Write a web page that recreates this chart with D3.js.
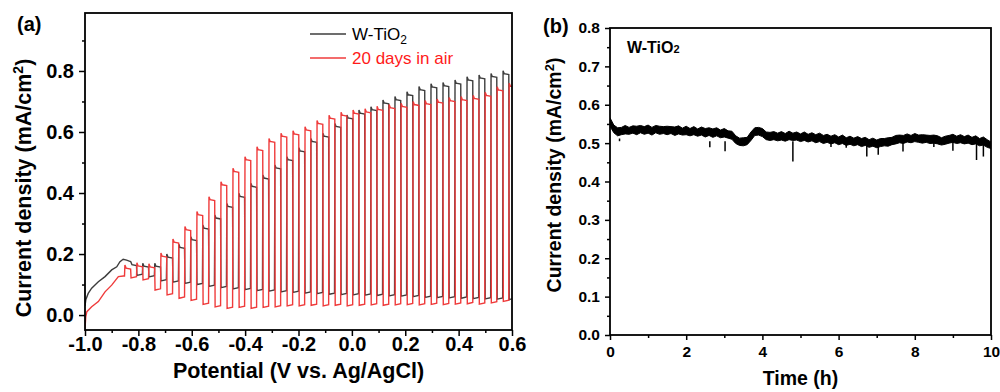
<!DOCTYPE html>
<html>
<head>
<meta charset="utf-8">
<script src="https://cdn.jsdelivr.net/npm/d3@7"></script>
<style>
  body { margin: 0; background: #fff; }
  text { font-family: "Liberation Sans", Arial, sans-serif; }
  .axis line { stroke: #000; stroke-width: 1.5; }
  .axis path { display: none; }
</style>
</head>
<body>
<script>
// ---- panel (a): chopped LSV ----
const aXTicks = [-1.0, -0.8, -0.6, -0.4, -0.2, 0.0, 0.2, 0.4, 0.6]
const aXMinor = [-0.9, -0.7, -0.5, -0.3, -0.1, 0.1, 0.3, 0.5]
const aYTicks = [0.0, 0.2, 0.4, 0.6, 0.8]
const aYMinor = [0.1, 0.3, 0.5, 0.7, 0.9]

// W-TiO2 (black): smooth start, then light-on potential / light current / dark current per chop
const blackStartV = [-1.0, -0.997, -0.988, -0.975, -0.95, -0.925, -0.9, -0.881, -0.869, -0.857, -0.844, -0.832]
const blackStartI = [0.03, 0.05, 0.071, 0.088, 0.109, 0.126, 0.148, 0.158, 0.175, 0.183, 0.18, 0.176]
const blackOnV = [-0.830, -0.785, -0.740, -0.695, -0.650, -0.605, -0.560, -0.515, -0.470, -0.425, -0.380,
  -0.335, -0.290, -0.245, -0.200, -0.155, -0.110, -0.065, -0.020, 0.025, 0.070, 0.115, 0.160, 0.205,
  0.250, 0.295, 0.340, 0.385, 0.430, 0.475, 0.520, 0.565]
const blackLight = [0.175, 0.17, 0.17, 0.2, 0.232, 0.257, 0.295, 0.328, 0.366, 0.399, 0.432, 0.459,
  0.492, 0.519, 0.548, 0.579, 0.596, 0.628, 0.656, 0.672, 0.683, 0.705, 0.716, 0.732, 0.749, 0.758,
  0.762, 0.77, 0.781, 0.787, 0.792, 0.801]
const blackDark = [0.13, 0.125, 0.112, 0.108, 0.104, 0.1, 0.094, 0.09, 0.086, 0.083, 0.08, 0.078,
  0.076, 0.074, 0.072, 0.07, 0.068, 0.067, 0.066, 0.065, 0.064, 0.063, 0.062, 0.06, 0.058, 0.057,
  0.056, 0.055, 0.054, 0.053, 0.052, 0.05]

// 20 days in air (red)
const redStartV = [-1.0, -0.997, -0.993, -0.975, -0.95, -0.925, -0.9, -0.875, -0.856]
const redStartI = [-0.045, -0.005, 0.011, 0.027, 0.044, 0.076, 0.098, 0.126, 0.128]
const redOnV = [-0.852, -0.807, -0.762, -0.717, -0.672, -0.627, -0.582, -0.537, -0.492, -0.447, -0.402,
  -0.357, -0.312, -0.267, -0.222, -0.177, -0.132, -0.087, -0.042, 0.003, 0.048, 0.093, 0.138, 0.183,
  0.228, 0.273, 0.318, 0.363, 0.408, 0.453, 0.498, 0.543, 0.588]
const redLight = [0.164, 0.171, 0.168, 0.203, 0.249, 0.29, 0.339, 0.388, 0.437, 0.481, 0.519, 0.552,
  0.579, 0.596, 0.604, 0.617, 0.638, 0.655, 0.665, 0.672, 0.676, 0.684, 0.69, 0.694, 0.70, 0.703,
  0.708, 0.713, 0.716, 0.72, 0.73, 0.748, 0.76]
const redDark = [0.122, 0.115, 0.082, 0.066, 0.055, 0.048, 0.035, 0.027, 0.022, 0.025, 0.022, 0.025,
  0.027, 0.03, 0.03, 0.032, 0.03, 0.032, 0.03, 0.032, 0.033, 0.032, 0.033, 0.034, 0.033, 0.035,
  0.034, 0.036, 0.037, 0.036, 0.04, 0.045, 0.05]

// ---- panel (b): stability at constant bias ----
const bXTicks = [0, 2, 4, 6, 8, 10]
const bXMinor = [1, 3, 5, 7, 9]
const bYTicks = [0.0, 0.1, 0.2, 0.3, 0.4, 0.5, 0.6, 0.7, 0.8]
const bYMinor = [0.05, 0.15, 0.25, 0.35, 0.45, 0.55, 0.65, 0.75]
const timeH = [0, 0.1, 0.2, 0.3, 0.4, 0.5, 0.6, 0.7, 0.8, 0.9, 1.0, 1.1, 1.2, 1.3, 1.4, 1.5, 1.6, 1.7, 1.8, 1.9,
  2.0, 2.1, 2.2, 2.3, 2.4, 2.5, 2.6, 2.7, 2.8, 2.9, 3.0, 3.1, 3.2, 3.3, 3.4, 3.5, 3.6, 3.7, 3.8, 3.9,
  4.0, 4.1, 4.2, 4.3, 4.4, 4.5, 4.6, 4.7, 4.8, 4.9, 5.0, 5.1, 5.2, 5.3, 5.4, 5.5, 5.6, 5.7, 5.8, 5.9,
  6.0, 6.1, 6.2, 6.3, 6.4, 6.5, 6.6, 6.7, 6.8, 6.9, 7.0, 7.1, 7.2, 7.3, 7.4, 7.5, 7.6, 7.7, 7.8, 7.9,
  8.0, 8.1, 8.2, 8.3, 8.4, 8.5, 8.6, 8.7, 8.8, 8.9, 9.0, 9.1, 9.2, 9.3, 9.4, 9.5, 9.6, 9.7, 9.8, 9.9, 10.0]
// noisy trace drawn as its upper and lower envelope
const bUpper = [0.566, 0.547, 0.540, 0.541, 0.546, 0.541, 0.545, 0.544, 0.546, 0.543,
  0.547, 0.541, 0.546, 0.544, 0.543, 0.544, 0.543, 0.542, 0.545, 0.539,
  0.544, 0.538, 0.543, 0.537, 0.542, 0.538, 0.540, 0.537, 0.540, 0.534,
  0.538, 0.532, 0.531, 0.519, 0.513, 0.514, 0.515, 0.529, 0.540, 0.541,
  0.538, 0.529, 0.528, 0.530, 0.526, 0.530, 0.525, 0.531, 0.526, 0.529,
  0.524, 0.529, 0.523, 0.527, 0.522, 0.526, 0.520, 0.523, 0.518, 0.522,
  0.516, 0.521, 0.514, 0.518, 0.513, 0.517, 0.512, 0.515, 0.509, 0.513,
  0.508, 0.512, 0.512, 0.514, 0.515, 0.520, 0.521, 0.520, 0.524, 0.520,
  0.525, 0.521, 0.522, 0.521, 0.520, 0.521, 0.519, 0.514, 0.518, 0.520,
  0.523, 0.518, 0.522, 0.517, 0.521, 0.515, 0.519, 0.512, 0.516, 0.509, 0.503]
const bLower = [0.544, 0.527, 0.519, 0.522, 0.524, 0.523, 0.526, 0.522, 0.527, 0.523,
  0.526, 0.521, 0.527, 0.523, 0.525, 0.522, 0.525, 0.520, 0.524, 0.521,
  0.522, 0.519, 0.522, 0.518, 0.521, 0.516, 0.520, 0.515, 0.519, 0.514,
  0.516, 0.513, 0.510, 0.499, 0.494, 0.493, 0.496, 0.507, 0.520, 0.521,
  0.517, 0.509, 0.507, 0.509, 0.506, 0.508, 0.505, 0.509, 0.507, 0.508,
  0.504, 0.507, 0.503, 0.506, 0.501, 0.504, 0.499, 0.502, 0.498, 0.501,
  0.496, 0.499, 0.494, 0.497, 0.493, 0.496, 0.491, 0.494, 0.489, 0.492,
  0.488, 0.491, 0.493, 0.492, 0.496, 0.498, 0.501, 0.499, 0.503, 0.501,
  0.504, 0.502, 0.500, 0.502, 0.499, 0.500, 0.498, 0.495, 0.497, 0.500,
  0.502, 0.499, 0.501, 0.498, 0.500, 0.496, 0.498, 0.493, 0.495, 0.489, 0.486]
// downward glitches: time, lowest current
const spikeT = [0.25, 2.62, 3.02, 4.8, 5.8, 6.2, 6.74, 7.04, 7.69, 8.5, 9.0, 9.62, 9.8]
const spikeMin = [0.512, 0.489, 0.479, 0.452, 0.49, 0.488, 0.465, 0.47, 0.478, 0.49, 0.48, 0.456, 0.465]

const svg = d3.select('body').append('svg').attr('width', 1000).attr('height', 392)

// scales
const xA = d3.scaleLinear().domain([-1.0, 0.6]).range([85, 512])
const yA = d3.scaleLinear().domain([-0.049, 0.99]).range([330, 13])
const xB = d3.scaleLinear().domain([0, 10]).range([610, 991])
const yB = d3.scaleLinear().domain([0, 0.8]).range([335, 28])

const fmt1 = d => d.toFixed(1)

function styleTicks(sel, fs) {
  sel.selectAll('text')
    .style('font-size', fs + 'px')
    .style('font-weight', 'bold')
    .style('font-family', '"Liberation Sans", Arial, sans-serif')
    .attr('fill', '#000')
}

function drawAxes(x, y, xt, xm, yt, ym, fs, tick, pad, xFmt) {
  const b = y.range()[0], l = x.range()[0]
  svg.append('g').attr('class', 'axis').attr('transform', `translate(0,${b})`)
    .call(d3.axisBottom(x).tickValues(xt).tickSize(tick).tickPadding(pad[0]).tickFormat(xFmt))
    .call(g => styleTicks(g, fs))
  svg.append('g').attr('class', 'axis').attr('transform', `translate(0,${b})`)
    .call(d3.axisBottom(x).tickValues(xm).tickSize(3).tickFormat(''))
  svg.append('g').attr('class', 'axis').attr('transform', `translate(${l},0)`)
    .call(d3.axisLeft(y).tickValues(yt).tickSize(tick).tickPadding(pad[1]).tickFormat(fmt1))
    .call(g => styleTicks(g, fs))
  svg.append('g').attr('class', 'axis').attr('transform', `translate(${l},0)`)
    .call(d3.axisLeft(y).tickValues(ym).tickSize(3).tickFormat(''))
}

function frame(x, y, id) {
  const [x0, x1] = x.range(), [y0, y1] = y.range()
  svg.append('clipPath').attr('id', id).append('rect')
    .attr('x', x0).attr('y', y1).attr('width', x1 - x0).attr('height', y0 - y1)
  return () => svg.append('rect')
    .attr('x', x0).attr('y', y1).attr('width', x1 - x0).attr('height', y0 - y1)
    .attr('fill', 'none').attr('stroke', '#000').attr('stroke-width', 1.8)
}

// build square-wave trace from per-chop values
function chopPoints(startV, startI, onV, light, dark, width, xEnd) {
  const pts = startV.map((v, i) => [v, startI[i]])
  onV.forEach((v, k) => {
    const L = light[k], D = dark[k]
    const next = k + 1 < onV.length ? onV[k + 1] : xEnd
    pts.push([v, pts[pts.length - 1][1]])
    pts.push([v + 0.0015, L], [v + 0.006, L - 0.01], [v + width, L - 0.013])
    pts.push([v + width + 0.0015, D], [next, D + 0.004])
  })
  return pts
}

// ---------- panel (a) ----------
const borderA = frame(xA, yA, 'clipA')
const lineA = d3.line().x(d => xA(d[0])).y(d => yA(d[1]))

svg.append('path')
  .attr('d', lineA(chopPoints(blackStartV, blackStartI, blackOnV, blackLight, blackDark, 0.023, 0.6)))
  .attr('clip-path', 'url(#clipA)')
  .attr('fill', 'none').attr('stroke', '#3d3d3d').attr('stroke-width', 1.4)

svg.append('path')
  .attr('d', lineA(chopPoints(redStartV, redStartI, redOnV, redLight, redDark, 0.023, 0.6)))
  .attr('clip-path', 'url(#clipA)')
  .attr('fill', 'none').attr('stroke', '#ef3b3b').attr('stroke-width', 1.4)

drawAxes(xA, yA, aXTicks, aXMinor, aYTicks, aYMinor, 20, 6, [1, 5], fmt1)
borderA()

// legend
const legend = svg.append('g')
legend.append('line').attr('x1', 310).attr('x2', 346).attr('y1', 34).attr('y2', 34)
  .attr('stroke', '#3d3d3d').attr('stroke-width', 1.4)
const lt = legend.append('text').attr('x', 352).attr('y', 40).style('font-size', '17px').attr('fill', '#000')
lt.append('tspan').text('W-TiO')
lt.append('tspan').attr('dy', 4).style('font-size', '12px').text('2')
legend.append('line').attr('x1', 310).attr('x2', 346).attr('y1', 58).attr('y2', 58)
  .attr('stroke', '#ef3b3b').attr('stroke-width', 1.4)
legend.append('text').attr('x', 352).attr('y', 64).style('font-size', '17px')
  .attr('fill', '#ff1a1a').text('20 days in air')

// titles
svg.append('text').attr('x', 298.5).attr('y', 378).attr('text-anchor', 'middle')
  .style('font-size', '21.5px').style('font-weight', 'bold').text('Potential (V vs. Ag/AgCl)')
const yTitleA = svg.append('text').attr('transform', 'translate(31,188) rotate(-90)')
  .attr('text-anchor', 'middle').style('font-size', '21.5px').style('font-weight', 'bold')
yTitleA.append('tspan').text('Current density (mA/cm')
yTitleA.append('tspan').attr('dy', -8).style('font-size', '14px').text('2')
yTitleA.append('tspan').attr('dy', 8).text(')')
svg.append('text').attr('x', 17).attr('y', 31).style('font-size', '20px')
  .style('font-weight', 'bold').text('(a)')

// ---------- panel (b) ----------
const borderB = frame(xB, yB, 'clipB')

svg.append('g').attr('clip-path', 'url(#clipB)')
  .selectAll('line').data(spikeT).enter().append('line')
  .attr('x1', d => xB(d)).attr('x2', d => xB(d))
  .attr('y1', (d, i) => yB(spikeMin[i])).attr('y2', yB(0.505))
  .attr('stroke', '#000').attr('stroke-width', 1.5)

const bandB = d3.area()
  .x((d, i) => xB(timeH[i]))
  .y0((d, i) => yB(bLower[i]))
  .y1(d => yB(d))
svg.append('path').attr('d', bandB(bUpper)).attr('clip-path', 'url(#clipB)')
  .attr('fill', '#000').attr('stroke', '#000').attr('stroke-width', 1)
  .attr('stroke-linejoin', 'round')

drawAxes(xB, yB, bXTicks, bXMinor, bYTicks, bYMinor, 15.5, 5, [6, 5], d => d)
borderB()

svg.append('text').attr('x', 800.5).attr('y', 385).attr('text-anchor', 'middle')
  .style('font-size', '19.5px').style('font-weight', 'bold').text('Time (h)')
const yTitleB = svg.append('text').attr('transform', 'translate(561,175) rotate(-90)')
  .attr('text-anchor', 'middle').style('font-size', '19.5px').style('font-weight', 'bold')
yTitleB.append('tspan').text('Current density (mA/cm')
yTitleB.append('tspan').attr('dy', -7).style('font-size', '13px').text('2')
yTitleB.append('tspan').attr('dy', 7).text(')')
svg.append('text').attr('x', 543).attr('y', 33).style('font-size', '20px')
  .style('font-weight', 'bold').text('(b)')
const ann = svg.append('text').attr('x', 627).attr('y', 53).style('font-size', '16px')
  .style('font-weight', 'bold')
ann.append('tspan').text('W-TiO')
ann.append('tspan').style('font-size', '11px').text('2')
</script>
</body>
</html>
